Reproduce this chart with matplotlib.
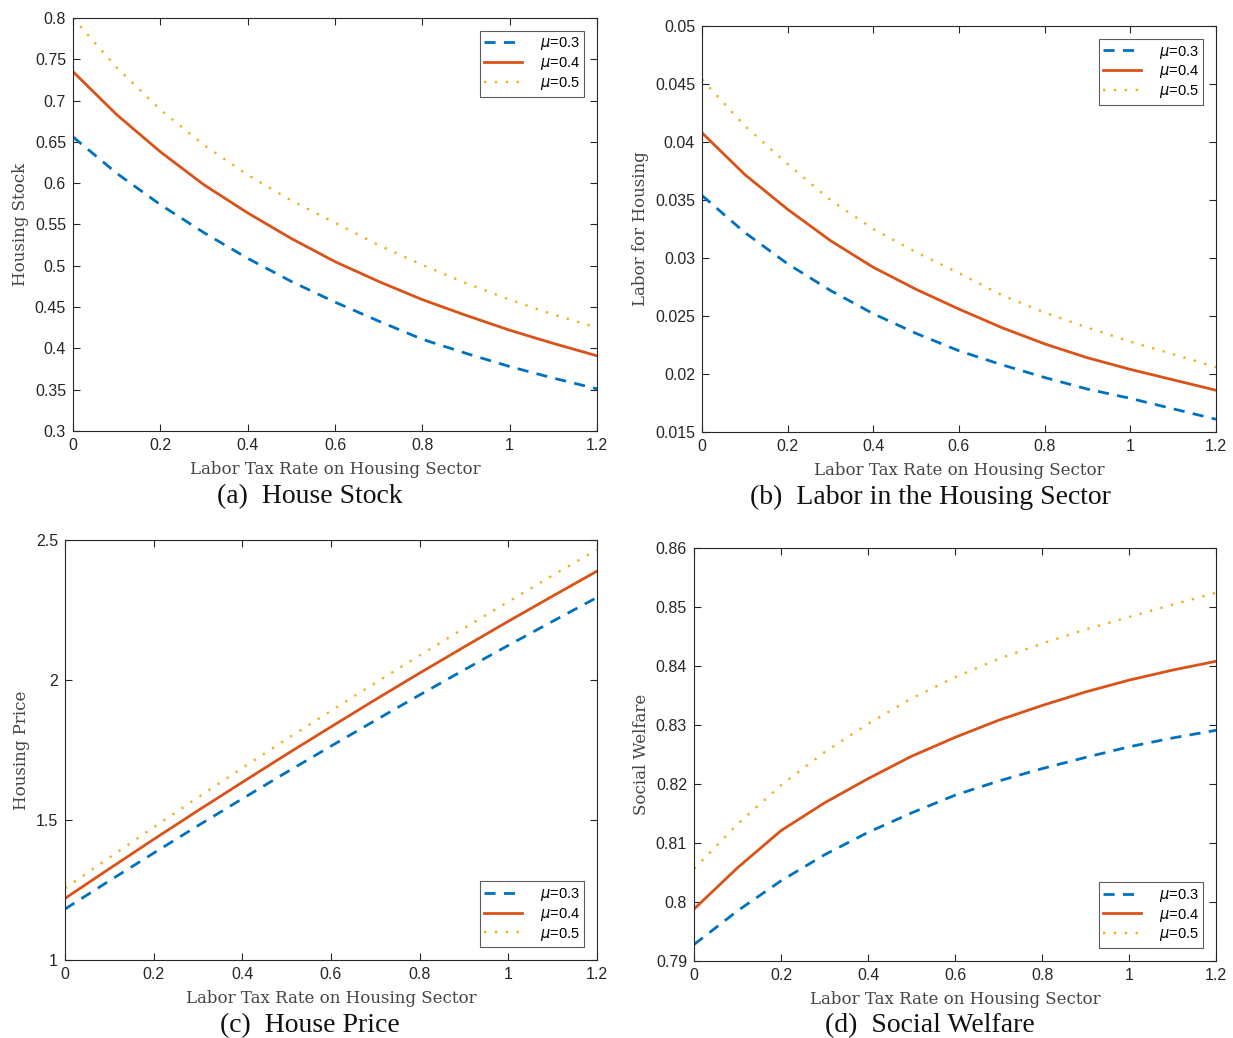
import numpy as np
import matplotlib.pyplot as plt

# labor tax rate on the housing sector (x axis, shared by all panels)
tax = [0.0, 0.1, 0.2, 0.3, 0.4, 0.5, 0.6, 0.7, 0.8, 0.9, 1.0, 1.1, 1.2]
mu_labels = ['$\\mu$=0.3', '$\\mu$=0.4', '$\\mu$=0.5']

# (a) housing stock
stock_03 = [0.656, 0.612, 0.574, 0.540, 0.509, 0.481, 0.456, 0.433, 0.411, 0.394, 0.378, 0.364, 0.351]
stock_04 = [0.735, 0.683, 0.638, 0.598, 0.564, 0.533, 0.505, 0.481, 0.459, 0.440, 0.422, 0.406, 0.391]
stock_05 = [0.800, 0.740, 0.689, 0.646, 0.610, 0.579, 0.552, 0.525, 0.501, 0.479, 0.459, 0.441, 0.425]

# (b) labor for housing
labor_03 = [0.0354, 0.0322, 0.0295, 0.0272, 0.0252, 0.0235, 0.0220, 0.0208, 0.0197, 0.0187, 0.0179, 0.0170, 0.0161]
labor_04 = [0.0408, 0.0372, 0.0342, 0.0315, 0.0292, 0.0273, 0.0256, 0.0240, 0.0226, 0.0214, 0.0204, 0.0195, 0.0186]
labor_05 = [0.0454, 0.0414, 0.0381, 0.0350, 0.0325, 0.0305, 0.0287, 0.0268, 0.0253, 0.0240, 0.0228, 0.0217, 0.0206]

# (c) housing price
price_03 = [1.182, 1.283, 1.382, 1.480, 1.576, 1.671, 1.764, 1.856, 1.947, 2.036, 2.124, 2.210, 2.295]
price_04 = [1.220, 1.326, 1.431, 1.534, 1.635, 1.735, 1.833, 1.930, 2.025, 2.118, 2.210, 2.300, 2.389]
price_05 = [1.256, 1.366, 1.474, 1.581, 1.686, 1.789, 1.890, 1.990, 2.088, 2.185, 2.280, 2.374, 2.466]

# (d) social welfare
welfare_03 = [0.7928, 0.7985, 0.8036, 0.8080, 0.8118, 0.8151, 0.8181, 0.8205, 0.8226, 0.8245, 0.8263, 0.8278, 0.8291]
welfare_04 = [0.7988, 0.8058, 0.8121, 0.8168, 0.8209, 0.8247, 0.8279, 0.8308, 0.8333, 0.8356, 0.8376, 0.8393, 0.8408]
welfare_05 = [0.8056, 0.8132, 0.8198, 0.8254, 0.8302, 0.8345, 0.8381, 0.8412, 0.8438, 0.8462, 0.8483, 0.8504, 0.8524]

panels = [
    dict(rect=[0.0592, 0.5848, 0.4250, 0.3979], series=[stock_03, stock_04, stock_05],
         ylim=(0.3, 0.8), yticks=[0.3, 0.35, 0.4, 0.45, 0.5, 0.55, 0.6, 0.65, 0.7, 0.75, 0.8],
         yticklabels=['0.3', '0.35', '0.4', '0.45', '0.5', '0.55', '0.6', '0.65', '0.7', '0.75', '0.8'],
         ylabel='Housing Stock', caption='(a)  House Stock', cap_xy=(310, 497), loc='upper right'),
    dict(rect=[0.5693, 0.5838, 0.4169, 0.3911], series=[labor_03, labor_04, labor_05],
         ylim=(0.015, 0.05), yticks=[0.015, 0.02, 0.025, 0.03, 0.035, 0.04, 0.045, 0.05],
         yticklabels=['0.015', '0.02', '0.025', '0.03', '0.035', '0.04', '0.045', '0.05'],
         ylabel='Labor for Housing', caption='(b)  Labor in the Housing Sector', cap_xy=(930, 497),
         loc='upper right'),
    dict(rect=[0.0527, 0.0751, 0.4315, 0.4046], series=[price_03, price_04, price_05],
         ylim=(1, 2.5), yticks=[1, 1.5, 2, 2.5], yticklabels=['1', '1.5', '2', '2.5'],
         ylabel='Housing Price', caption='(c)  House Price', cap_xy=(310, 1026), loc='lower right'),
    dict(rect=[0.5629, 0.0742, 0.4234, 0.3979], series=[welfare_03, welfare_04, welfare_05],
         ylim=(0.79, 0.86), yticks=[0.79, 0.8, 0.81, 0.82, 0.83, 0.84, 0.85, 0.86],
         yticklabels=['0.79', '0.8', '0.81', '0.82', '0.83', '0.84', '0.85', '0.86'],
         ylabel='Social Welfare', caption='(d)  Social Welfare', cap_xy=(930, 1026), loc='lower right'),
]

colors = ['#0072BD', '#D95319', '#EDB120']
xticks = [0, 0.2, 0.4, 0.6, 0.8, 1.0, 1.2]
xticklabels = ['0', '0.2', '0.4', '0.6', '0.8', '1', '1.2']

W, H = 1233, 1038
fig = plt.figure(figsize=(W / 100, H / 100), dpi=100)

for p in panels:
    ax = fig.add_axes(p['rect'])
    s03, s04, s05 = p['series']
    ax.plot(tax, s03, color=colors[0], lw=2, dashes=(4, 3), label=mu_labels[0])
    ax.plot(tax, s04, color=colors[1], lw=2, label=mu_labels[1])
    ax.plot(tax, s05, color=colors[2], lw=1.7, dashes=(1, 3.6), label=mu_labels[2])

    ax.set_xlim(0, 1.2)
    ax.set_ylim(*p['ylim'])
    ax.set_xticks(xticks)
    ax.set_xticklabels(xticklabels)
    ax.set_yticks(p['yticks'])
    ax.set_yticklabels(p['yticklabels'])
    ax.tick_params(direction='in', top=True, right=True, labelsize=11.5, length=5,
                   width=0.8, colors='#262626', labelcolor='#262626', pad=5)
    for lab in ax.get_xticklabels() + ax.get_yticklabels():
        lab.set_family('Liberation Sans')
    for sp in ax.spines.values():
        sp.set_color('#262626')
        sp.set_linewidth(0.8)

    ax.set_xlabel('Labor Tax Rate on Housing Sector', fontsize=12, family='DejaVu Serif',
                  color='#444444', labelpad=6)
    ax.set_ylabel(p['ylabel'], fontsize=12, family='DejaVu Serif', color='#444444', labelpad=4)

    leg = ax.legend(loc=p['loc'], frameon=True, fancybox=False,
                    prop={'family': 'Liberation Sans', 'size': 10.5},
                    handlelength=2.6, borderpad=0.3, labelspacing=0.2,
                    handletextpad=1.2, borderaxespad=0.9)
    leg.get_frame().set_edgecolor('#333333')
    leg.get_frame().set_linewidth(0.8)

    cx, cy = p['cap_xy']
    fig.text(cx / W, 1 - cy / H, p['caption'], ha='center', va='center',
             fontsize=20, family='Liberation Serif', color='#111111')

fig.savefig('out.png', dpi=100)
